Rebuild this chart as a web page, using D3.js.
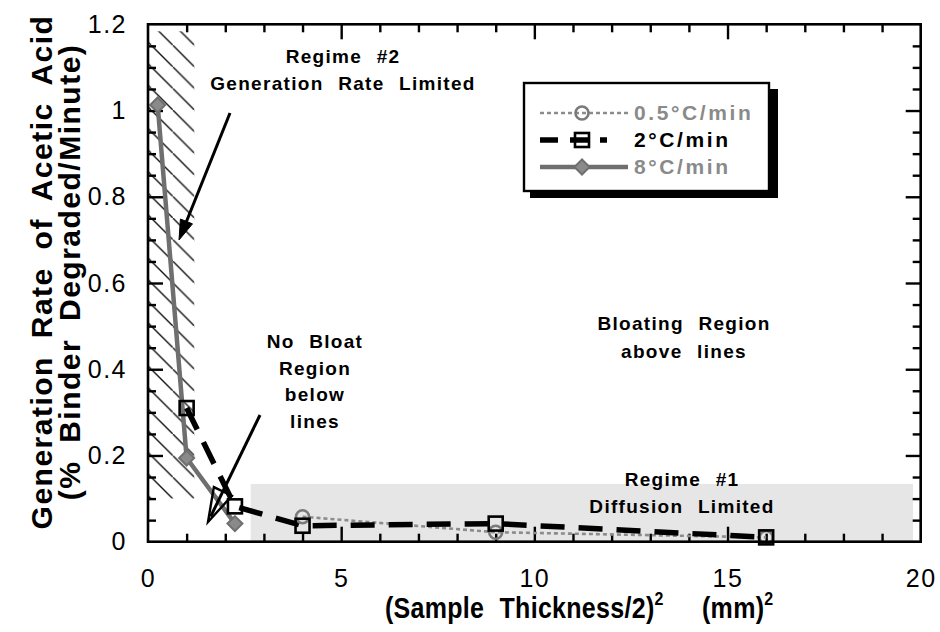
<!DOCTYPE html>
<html lang="en">
  <head>
    <meta charset="UTF-8" />
    <title>Generation Rate of Acetic Acid</title>
    <script src="https://cdnjs.cloudflare.com/ajax/libs/d3/7.8.5/d3.min.js"></script>
    <style>
      body {
        margin: 0;
        background: #fff;
        font-family: "Liberation Sans", Arial, Helvetica, sans-serif;
      }
      .note {
        font-weight: bold;
        font-size: 19px;
        letter-spacing: 1.3px;
        word-spacing: 8px;
        text-anchor: middle;
      }
      .tick-label text {
        font-family: "Liberation Sans", Arial, sans-serif;
        font-size: 25px;
        letter-spacing: 1.5px;
        fill: #000;
      }
    </style>
  </head>
  <body>
    <div id="chart"></div>
    <script>
      // Data: x = (sample thickness/2)^2 in mm^2
      const x05 = [4, 9, 16];
      const y05 = [0.058, 0.022, 0.01];
      const x2 = [1, 2.25, 4, 9, 16];
      const y2 = [0.31, 0.082, 0.037, 0.042, 0.01];
      const x8 = [0.25, 1, 2.25];
      const y8 = [1.013, 0.194, 0.042];

      const seriesNames = ["0.5°C/min", "2°C/min", "8°C/min"];
      const xTicks = [0, 5, 10, 15, 20];
      const yTicks = [0, 0.2, 0.4, 0.6, 0.8, 1, 1.2];
      const xMinor = [1, 2, 3, 4, 6, 7, 8, 9, 11, 12, 13, 14, 16, 17, 18, 19];
      const xMajor = [5, 10, 15];
      const yMinor = [0.05, 0.1, 0.15, 0.25, 0.3, 0.35, 0.45, 0.5, 0.55, 0.65, 0.7, 0.75,
        0.85, 0.9, 0.95, 1.05, 1.1, 1.15];
      const yMajor = [0.2, 0.4, 0.6, 0.8, 1.0];

      // Regions (data units)
      const hatchX = [0, 1.2];
      const hatchY = [0.1, 1.2];
      const shadeX = [2.66, 19.8];
      const shadeY = [0, 0.134];

      const width = 940;
      const height = 632;

      const svg = d3
        .select("#chart")
        .append("svg")
        .attr("width", width)
        .attr("height", height);

      const x = d3.scaleLinear().domain([0, 20]).range([148, 920.7]);
      const y = d3.scaleLinear().domain([0, 1.2]).range([541.7, 24.3]);

      // hatch pattern
      const defs = svg.append("defs");
      const pat = defs
        .append("pattern")
        .attr("id", "hatch")
        .attr("patternUnits", "userSpaceOnUse")
        .attr("width", 21.6)
        .attr("height", 21.6)
        .attr("y", 2);
      pat
        .append("line")
        .attr("x1", -2)
        .attr("y1", -2)
        .attr("x2", 23.6)
        .attr("y2", 23.6)
        .attr("stroke", "#111")
        .attr("stroke-width", 1.4);

      // gray region (Regime #1)
      svg
        .append("rect")
        .attr("x", x(shadeX[0]))
        .attr("y", y(shadeY[1]))
        .attr("width", x(shadeX[1]) - x(shadeX[0]))
        .attr("height", y(shadeY[0]) - y(shadeY[1]))
        .attr("fill", "#e6e6e6");

      // hatched region (Regime #2)
      svg
        .append("rect")
        .attr("x", x(hatchX[0]))
        .attr("y", y(hatchY[1]) + 7)
        .attr("width", x(hatchX[1]) - x(hatchX[0]))
        .attr("height", y(hatchY[0]) - y(hatchY[1]) - 7)
        .attr("fill", "url(#hatch)");

      // inward ticks, built with d3 axes (tick lines only)
      const tickGroups = [];
      function tickAxis(axisFn, scale, pos, values, size) {
        const g = svg
          .append("g")
          .attr("transform", pos)
          .call(axisFn(scale).tickValues(values).tickSizeInner(size).tickSizeOuter(0).tickFormat(() => ""));
        g.select(".domain").remove();
        g.selectAll(".tick line").attr("stroke", "#000").attr("stroke-width", 2.4);
        tickGroups.push(g);
      }
      tickAxis(d3.axisBottom, x, `translate(0,${y(0)})`, xMinor, -8);
      tickAxis(d3.axisBottom, x, `translate(0,${y(0)})`, xMajor, -15);
      tickAxis(d3.axisTop, x, `translate(0,${y(1.2)})`, xMinor, -8);
      tickAxis(d3.axisTop, x, `translate(0,${y(1.2)})`, xMajor, -15);
      tickAxis(d3.axisLeft, y, `translate(${x(0)},0)`, yMinor, -8);
      tickAxis(d3.axisLeft, y, `translate(${x(0)},0)`, yMajor, -15);
      tickAxis(d3.axisRight, y, `translate(${x(20)},0)`, yMinor, -8);
      tickAxis(d3.axisRight, y, `translate(${x(20)},0)`, yMajor, -15);

      // tick labels
      svg
        .append("g")
        .attr("class", "tick-label")
        .attr("transform", `translate(0,${y(0)})`)
        .call(d3.axisBottom(x).tickValues(xTicks).tickSize(0).tickPadding(28).tickFormat(d3.format("d")))
        .call((g) => g.select(".domain").remove());
      svg
        .append("g")
        .attr("class", "tick-label")
        .attr("transform", `translate(${x(0)},0)`)
        .call(d3.axisLeft(y).tickValues(yTicks).tickSize(0).tickPadding(21).tickFormat((d) => String(+d.toFixed(1))))
        .call((g) => g.select(".domain").remove());

      // series
      const line = d3.line().x((d) => x(d[0])).y((d) => y(d[1]));
      const pts = (xs, ys) => xs.map((v, i) => [v, ys[i]]);

      svg
        .append("path")
        .attr("d", line(pts(x05, y05)))
        .attr("fill", "none")
        .attr("stroke", "#8c8c8c")
        .attr("stroke-width", 2.6)
        .attr("stroke-dasharray", "4,3");
      svg
        .append("path")
        .attr("d", line(pts(x8, y8)))
        .attr("fill", "none")
        .attr("stroke", "#6f6f6f")
        .attr("stroke-width", 4.5);
      svg
        .append("path")
        .attr("d", line(pts(x2, y2)))
        .attr("fill", "none")
        .attr("stroke", "#000")
        .attr("stroke-width", 5.5)
        .attr("stroke-dasharray", "24,14");

      function circleMark(g, cx, cy) {
        g.append("circle")
          .attr("cx", cx)
          .attr("cy", cy)
          .attr("r", 6.5)
          .attr("fill", "none")
          .attr("stroke", "#7a7a7a")
          .attr("stroke-width", 2.6);
      }
      function squareMark(g, cx, cy) {
        g.append("rect")
          .attr("x", cx - 7)
          .attr("y", cy - 7)
          .attr("width", 14)
          .attr("height", 14)
          .attr("fill", "none")
          .attr("stroke", "#000")
          .attr("stroke-width", 2.6);
      }
      function diamondMark(g, cx, cy) {
        g.append("path")
          .attr("d", `M${cx},${cy - 7.5}L${cx + 7.5},${cy}L${cx},${cy + 7.5}L${cx - 7.5},${cy}Z`)
          .attr("fill", "#8a8a8a")
          .attr("stroke", "#6f6f6f")
          .attr("stroke-width", 2);
      }
      const marks = svg.append("g");
      pts(x05, y05).forEach((d) => circleMark(marks, x(d[0]), y(d[1])));
      pts(x2, y2).forEach((d) => squareMark(marks, x(d[0]), y(d[1])));
      pts(x8, y8).forEach((d) => diamondMark(marks, x(d[0]), y(d[1])));

      // annotations
      function note(lines, cx, y0, dy) {
        const t = svg.append("text").attr("class", "note");
        lines.forEach((s, i) =>
          t.append("tspan").attr("x", cx).attr("y", y0 + i * dy).text(s)
        );
      }
      note(["Regime #2", "Generation Rate Limited"], 343, 63, 27);
      note(["No Bloat", "Region", "below", "lines"], 315, 348, 26.5);
      note(["Bloating Region", "above lines"], 684, 330, 28);
      note(["Regime #1", "Diffusion Limited"], 682, 486, 27);

      // arrows
      function arrow(ax, ay, bx0, by0, len, half, filled) {
        const dx = bx0 - ax, dy = by0 - ay;
        const L = Math.hypot(dx, dy);
        const ux = dx / L, uy = dy / L;
        const bx = bx0 - ux * len, by = by0 - uy * len;
        svg
          .append("line")
          .attr("x1", ax)
          .attr("y1", ay)
          .attr("x2", filled ? bx : bx0 - ux * 6)
          .attr("y2", filled ? by : by0 - uy * 6)
          .attr("stroke", "#000")
          .attr("stroke-width", 3);
        svg
          .append("path")
          .attr(
            "d",
            `M${bx0},${by0}L${bx - uy * half},${by + ux * half}L${bx + uy * half},${by - ux * half}Z`
          )
          .attr("fill", filled ? "#000" : "none")
          .attr("stroke", "#000")
          .attr("stroke-width", filled ? 1 : 2.4)
          .attr("stroke-linejoin", "miter");
      }
      arrow(230, 113, 179, 240, 20, 6.5, true);
      arrow(260, 415, 208, 522, 34, 10, false);

      // legend
      const lg = svg.append("g");
      lg.append("rect")
        .attr("x", 530)
        .attr("y", 89)
        .attr("width", 248)
        .attr("height", 109)
        .attr("fill", "#000");
      lg.append("rect")
        .attr("x", 524)
        .attr("y", 83)
        .attr("width", 245)
        .attr("height", 108)
        .attr("fill", "#fff")
        .attr("stroke", "#000")
        .attr("stroke-width", 2.4);

      const rowY = [113, 140, 167];
      const legendColor = ["#8a8a8a", "#000", "#8a8a8a"];
      lg.append("line")
        .attr("x1", 540).attr("x2", 628)
        .attr("y1", rowY[0]).attr("y2", rowY[0])
        .attr("stroke", "#8c8c8c").attr("stroke-width", 2.6).attr("stroke-dasharray", "4,3");
      circleMark(lg, 582, rowY[0]);
      lg.append("line")
        .attr("x1", 540).attr("x2", 607)
        .attr("y1", rowY[1]).attr("y2", rowY[1])
        .attr("stroke", "#000").attr("stroke-width", 5.5).attr("stroke-dasharray", "18,12");
      squareMark(lg, 582, rowY[1]);
      lg.append("line")
        .attr("x1", 540).attr("x2", 628)
        .attr("y1", rowY[2]).attr("y2", rowY[2])
        .attr("stroke", "#6f6f6f").attr("stroke-width", 4.5);
      diamondMark(lg, 582, rowY[2]);

      seriesNames.forEach((name, i) => {
        lg.append("text")
          .attr("x", 634)
          .attr("y", rowY[i] + 7)
          .attr("font-size", 21)
          .attr("font-weight", "bold")
          .attr("letter-spacing", 2.6)
          .attr("fill", legendColor[i])
          .text(name);
      });

      // axis titles
      const yl = svg
        .append("text")
        .attr("transform", "translate(0,272) rotate(-90)")
        .attr("text-anchor", "middle")
        .attr("font-size", 30)
        .attr("font-weight", "bold")
        .attr("letter-spacing", 1.5)
        .attr("word-spacing", 8);
      yl.append("tspan").attr("x", 0).attr("y", 52).text("Generation Rate of Acetic Acid");
      yl.append("tspan").attr("x", 0).attr("y", 80).text("(% Binder Degraded/Minute)");

      const xl = svg
        .append("text")
        .attr("transform", "translate(385,618) scale(1,1.18)")
        .attr("font-size", 25)
        .attr("font-weight", "bold")
        .attr("letter-spacing", 0.3)
        .attr("word-spacing", 8);
      xl.append("tspan").attr("x", 0).attr("y", 0).text("(Sample Thickness/2)");
      xl.append("tspan").attr("font-size", 16).attr("dy", -11).text("2");
      xl.append("tspan").attr("x", 317).attr("y", 0).text("(mm)");
      xl.append("tspan").attr("font-size", 16).attr("dy", -11).text("2");

      // frame
      svg
        .append("rect")
        .attr("x", x(0))
        .attr("y", y(1.2))
        .attr("width", x(20) - x(0))
        .attr("height", y(0) - y(1.2))
        .attr("fill", "none")
        .attr("stroke", "#000")
        .attr("stroke-width", 2.6);
    </script>
  </body>
</html>
